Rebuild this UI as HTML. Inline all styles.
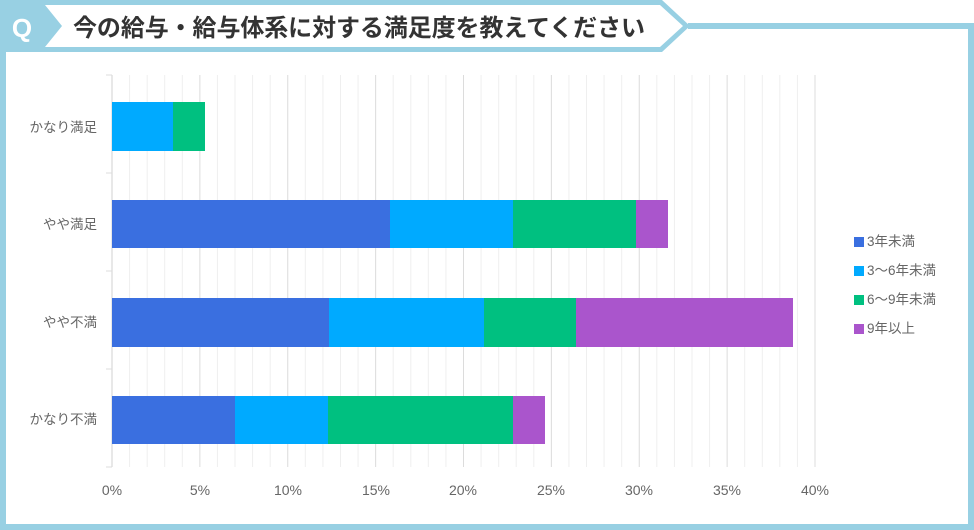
<!DOCTYPE html><html><head><meta charset="utf-8"><style>
body{margin:0;width:974px;height:530px;background:#fff;overflow:hidden;font-family:"Liberation Sans","Noto Sans CJK JP",sans-serif}
</style></head><body>
<svg width="974" height="530" xmlns="http://www.w3.org/2000/svg" style="position:absolute;left:0;top:0">
<g fill="none" stroke="#98d0e3" stroke-width="6">
<polyline points="688,26 971,26 971,527 3,527 3,50"/>
</g>
<polygon points="0,0 662,0 690,26 662,52 0,52" fill="#98d0e3"/>
<polygon points="45,5 660,5 683,26 660,47 45,47 62,26" fill="#fff"/>
<text x="22" y="37" font-size="26" font-weight="bold" fill="#fff" text-anchor="middle">Q</text>
<text x="73" y="36" font-size="24" font-weight="bold" fill="#333" font-family="Noto Sans CJK JP,sans-serif" textLength="572">今の給与・給与体系に対する満足度を教えてください</text>
<g id="grid"></g>
<g font-size="13.5" fill="#666" text-anchor="end">
<text x="97" y="132">かなり満足</text><text x="97" y="229">やや満足</text><text x="97" y="327">やや不満</text><text x="97" y="424">かなり不満</text>
</g>
<g font-size="14" fill="#666" text-anchor="middle">
<text x="112" y="495">0%</text><text x="200" y="495">5%</text><text x="288" y="495">10%</text><text x="376" y="495">15%</text><text x="463" y="495">20%</text><text x="551" y="495">25%</text><text x="639" y="495">30%</text><text x="727" y="495">35%</text><text x="815" y="495">40%</text>
</g>
<rect x="112" y="102" width="61" height="49" fill="#00aaff"/><rect x="173" y="102" width="32" height="49" fill="#00c080"/>
<rect x="112" y="200" width="278" height="48" fill="#3a6fe0"/><rect x="390" y="200" width="123" height="48" fill="#00aaff"/><rect x="513" y="200" width="123" height="48" fill="#00c080"/><rect x="636" y="200" width="32" height="48" fill="#aa55cc"/>
<rect x="112" y="298" width="217" height="49" fill="#3a6fe0"/><rect x="329" y="298" width="155" height="49" fill="#00aaff"/><rect x="484" y="298" width="92" height="49" fill="#00c080"/><rect x="576" y="298" width="217" height="49" fill="#aa55cc"/>
<rect x="112" y="396" width="123" height="48" fill="#3a6fe0"/><rect x="235" y="396" width="93" height="48" fill="#00aaff"/><rect x="328" y="396" width="185" height="48" fill="#00c080"/><rect x="513" y="396" width="32" height="48" fill="#aa55cc"/>
<g font-size="13.5" fill="#666">
<rect x="854" y="237" width="10" height="10" fill="#3a6fe0"/><text x="867" y="246">3年未満</text>
<rect x="854" y="266" width="10" height="10" fill="#00aaff"/><text x="867" y="275">3～6年未満</text>
<rect x="854" y="295" width="10" height="10" fill="#00c080"/><text x="867" y="304">6～9年未満</text>
<rect x="854" y="324" width="10" height="10" fill="#aa55cc"/><text x="867" y="333">9年以上</text>
</g>
</svg>
<script>
var g=document.getElementById('grid'),s='';
for(var i=0;i<=40;i++){var x=112+i*17.575;var maj=i%5==0;s+='<line x1="'+x+'" y1="75" x2="'+x+'" y2="467" stroke="'+(maj?'#dcdcdc':'#efefef')+'" stroke-width="1"/>';}
s+='<line x1="112" y1="75" x2="112" y2="467" stroke="#d0d0d0"/>';
[75,173,271,369,467].forEach(function(y){s+='<line x1="106" y1="'+y+'" x2="112" y2="'+y+'" stroke="#ddd"/>';});
g.innerHTML=s;
</script>
</body></html>
